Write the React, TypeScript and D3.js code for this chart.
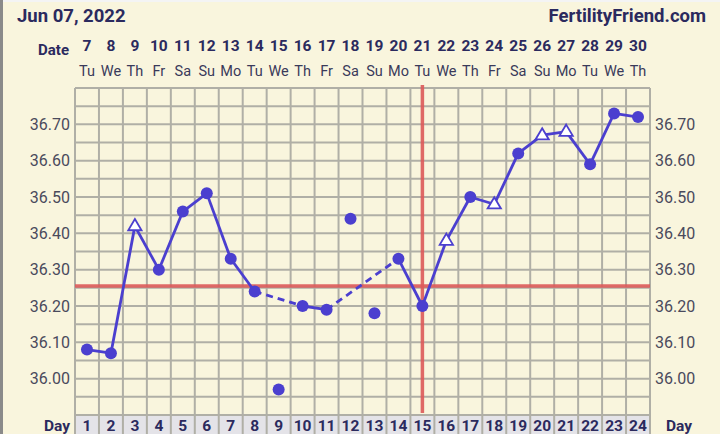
import React from "react";
import * as d3 from "d3";

const days = d3.range(1, 25);
const dates = [7, 8, 9, 10, 11, 12, 13, 14, 15, 16, 17, 18, 19, 20, 21, 22, 23, 24, 25, 26, 27, 28, 29, 30];
const weekdays = ["Tu", "We", "Th", "Fr", "Sa", "Su", "Mo", "Tu", "We", "Th", "Fr", "Sa", "Su", "Mo", "Tu", "We", "Th", "Fr", "Sa", "Su", "Mo", "Tu", "We", "Th"];
const temps = [36.08, 36.07, 36.42, 36.30, 36.46, 36.51, 36.33, 36.24, 35.97, 36.20, 36.19, 36.44, 36.18, 36.33, 36.20, 36.38, 36.50, 36.48, 36.62, 36.67, 36.68, 36.59, 36.73, 36.72];
const markers = ["c", "c", "t", "c", "c", "c", "c", "c", "c", "c", "c", "c", "c", "c", "c", "t", "c", "t", "c", "t", "t", "c", "c", "c"];
const discarded = [9, 12, 13];
const yTicks = [36.0, 36.1, 36.2, 36.3, 36.4, 36.5, 36.6, 36.7];
const coverline = 36.255;
const ovulationDay = 15;

const W = 720, H = 434;
const left = 75, right = 650, top = 88, bottom = 415;

export default function App() {
  const x = d3.scaleLinear().domain([0.5, 24.5]).range([left, right]);
  const y = d3.scaleLinear().domain([35.9, 36.8]).range([bottom, top]);
  const gridY = d3.range(0, 19).map((i) => 35.9 + i * 0.05);
  const gridX = d3.range(0, 25).map((i) => 0.5 + i);

  const kept = days.filter((d) => !discarded.includes(d));
  const segs: { a: number; b: number; dashed: boolean }[] = [];
  for (let i = 0; i < kept.length - 1; i++) {
    segs.push({ a: kept[i], b: kept[i + 1], dashed: kept[i + 1] - kept[i] > 1 });
  }
  const line = d3.line<number>().x((d) => x(d)).y((d) => y(temps[d - 1]));
  const navy = "#2b2a5e";
  const blue = "#4b3fcf";
  const red = "#dd5a5a";
  const font = "Roboto, sans-serif";

  const tri = (cx: number, cy: number) => {
    const r = 7;
    return `M${cx},${cy - r}L${cx + r * 0.95},${cy + r * 0.6}L${cx - r * 0.95},${cy + r * 0.6}Z`;
  };

  return (
    <svg width={W} height={H} style={{ position: "absolute", left: 0, top: 0 }} fontFamily={font}>
      <rect x={0} y={0} width={W} height={H} fill="#f9f5dd" />
      <rect x={0} y={0} width={W} height={2} fill="#f4f4f4" />
      <rect x={0} y={0} width={3} height={H} fill="#8a8a8a" />
      <text x={17} y={22} fontSize={18.5} fontWeight={700} fill={navy}>Jun 07, 2022</text>
      <text x={706} y={22} fontSize={18.5} fontWeight={700} fill={navy} textAnchor="end">FertilityFriend.com</text>
      <text x={69} y={55} fontSize={15} fontWeight={700} fill={navy} textAnchor="end">Date</text>
      {dates.map((d, i) => (
        <text key={"d" + i} x={x(days[i])} y={51} fontSize={15.5} fontWeight={700} fill={navy} textAnchor="middle">{d}</text>
      ))}
      {weekdays.map((d, i) => (
        <text key={"w" + i} x={x(days[i])} y={76} fontSize={14.5} fill="#3a3a5a" textAnchor="middle">{d}</text>
      ))}
      <rect x={left} y={bottom} width={right - left} height={H - bottom} fill="#e4e3e8" />
      {gridY.map((v, i) => (
        <line key={"gy" + i} x1={left} x2={right} y1={y(v)} y2={y(v)} stroke="#b0afa6" strokeWidth={2} />
      ))}
      {gridX.map((v, i) => (
        <line key={"gx" + i} x1={x(v)} x2={x(v)} y1={top} y2={H} stroke="#b0afa6" strokeWidth={2} />
      ))}
      {yTicks.map((v) => (
        <g key={"yt" + v}>
          <text x={70} y={y(v) + 5.5} fontSize={16} fill="#4a4a5c" textAnchor="end">{v.toFixed(2)}</text>
          <text x={655} y={y(v) + 5.5} fontSize={16} fill="#4a4a5c">{v.toFixed(2)}</text>
        </g>
      ))}
      <text x={70} y={431} fontSize={15.5} fontWeight={700} fill={navy} textAnchor="end">Day</text>
      <text x={666} y={431} fontSize={15.5} fontWeight={700} fill={navy}>Day</text>
      {days.map((d) => (
        <text key={"dn" + d} x={x(d)} y={431} fontSize={15.5} fontWeight={700} fill={navy} textAnchor="middle">{d}</text>
      ))}
      <line x1={left} x2={right} y1={y(coverline)} y2={y(coverline)} stroke={red} strokeWidth={3.5} opacity={0.9} />
      <line x1={x(ovulationDay)} x2={x(ovulationDay)} y1={top - 3} y2={bottom - 2} stroke={red} strokeWidth={3.5} opacity={0.9} />
      {segs.map((s, i) => (
        <path key={"s" + i} d={line([s.a, s.b]) || ""} fill="none" stroke={blue} strokeWidth={2.8} strokeDasharray={s.dashed ? "7,5" : undefined} />
      ))}
      {days.map((d) =>
        markers[d - 1] === "t" ? (
          <path key={"m" + d} d={tri(x(d), y(temps[d - 1]))} fill="#ffffff" stroke={blue} strokeWidth={1.8} />
        ) : (
          <circle key={"m" + d} cx={x(d)} cy={y(temps[d - 1])} r={6} fill={blue} />
        )
      )}
    </svg>
  );
}
